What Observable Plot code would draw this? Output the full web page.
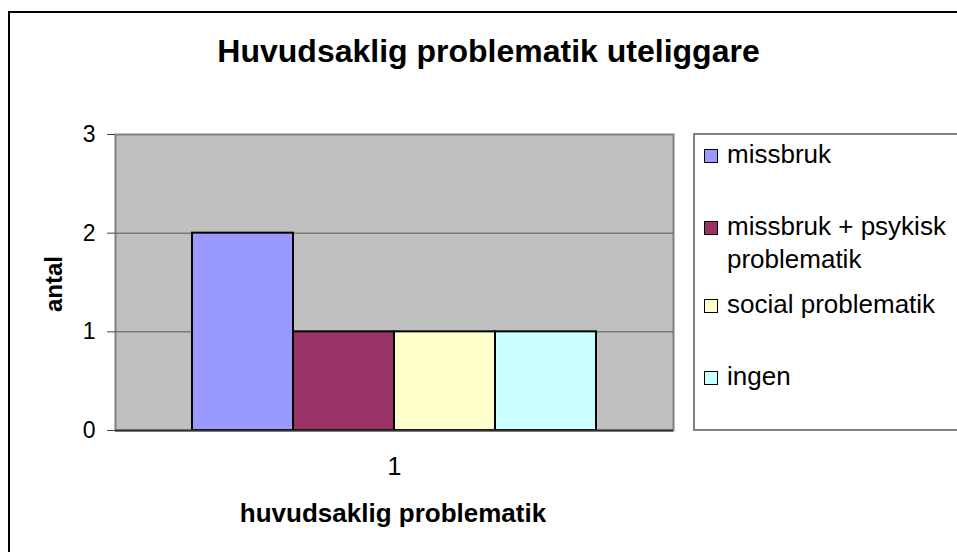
<!DOCTYPE html>
<html>
<head>
<meta charset="utf-8">
<script src="https://cdn.jsdelivr.net/npm/d3@7"></script>
<script src="https://cdn.jsdelivr.net/npm/@observablehq/plot@0.6"></script>
<style>
  html, body { margin: 0; padding: 0; overflow: hidden; background: #fff; width: 957px; height: 552px; }
  body { font-family: "Liberation Sans", Arial, sans-serif; color: #000; position: relative; }
  #frame { position: absolute; left: 8px; top: 11px; width: 1000px; height: 600px; border: 2px solid #000; box-sizing: border-box; }
  #title { position: absolute; left: 0; width: 977px; top: 35px; text-align: center; font-size: 32px; font-weight: bold; line-height: 1; white-space: nowrap; }
  #chart { position: absolute; left: 0; top: 0; }
  #ytitle { position: absolute; left: 53.5px; top: 284px; transform: translate(-50%, -50%) rotate(-90deg); font-size: 24px; font-weight: bold; line-height: 1; white-space: nowrap; }
  #xtitle { position: absolute; left: 0; width: 786px; top: 500px; text-align: center; font-size: 26px; font-weight: bold; line-height: 1; white-space: nowrap; }
  #legend { position: absolute; left: 693px; top: 133px; width: 300px; height: 298px; border: 2px solid #808080; box-sizing: border-box; background: #fff; }
  .entry { position: absolute; left: 0; width: 280px; font-size: 26px; line-height: 33px; }
  .swatch { position: absolute; left: 9px; top: 11px; width: 14px; height: 14px; border: 1.5px solid #000; box-sizing: border-box; }
  .label { position: absolute; left: 32px; top: 0; width: 235px; }
</style>
</head>
<body>
<div id="frame"></div>
<div id="title">Huvudsaklig problematik uteliggare</div>
<div id="chart"></div>
<div id="ytitle">antal</div>
<div id="xtitle">huvudsaklig problematik</div>
<div id="legend"></div>
<script>
// ---- data ----
const categories = ["1"];
const series = ["missbruk", "missbruk + psykisk problematik", "social problematik", "ingen"];
const values = [2, 1, 1, 1];
const colors = ["#9999FF", "#993366", "#FFFFCC", "#CCFFFF"];
const yTicks = [0, 1, 2, 3];
const gridValues = [1, 2];

// ---- layout (legend entry vertical offsets, px) ----
const legendTops = [2.5, 74.5, 152.5, 224.5];

const data = series.map((s, i) => ({ group: categories[0], series: s, value: values[i] }));

const chart = Plot.plot({
  width: 957,
  height: 552,
  marginLeft: 115,
  marginRight: 284,
  marginTop: 134,
  marginBottom: 122,
  style: { fontFamily: "'Liberation Sans', Arial, sans-serif", background: "transparent", color: "#000", overflow: "visible" },
  fx: { domain: categories, padding: 0, label: null },
  x: { domain: series, paddingInner: 0, paddingOuter: 0.75, axis: null },
  y: { domain: [0, 3], axis: null },
  color: { domain: series, range: colors },
  marks: [
    Plot.frame({ fill: "#c0c0c0", stroke: "#808080", strokeWidth: 2 }),
    Plot.gridY(gridValues, { stroke: "#555555", strokeOpacity: 1, strokeWidth: 1 }),
    Plot.barY(data, { fx: "group", x: "series", y: "value", fill: "series", stroke: "#000", strokeWidth: 2 }),
    Plot.ruleY([0], { stroke: "#333333", strokeWidth: 2 }),
    Plot.axisY({ ticks: yTicks, tickFormat: d3.format("d"), tickSize: 8, tickPadding: 12, fontSize: 23, label: null, stroke: "#404040" }),
    Plot.axisFx({ anchor: "bottom", tickSize: 0, tickPadding: 27, fontSize: 25, label: null })
  ]
});
document.getElementById("chart").appendChild(chart);

// ---- legend ----
const legend = document.getElementById("legend");
series.forEach((s, i) => {
  const e = document.createElement("div");
  e.className = "entry";
  e.style.top = legendTops[i] + "px";
  const sw = document.createElement("div");
  sw.className = "swatch";
  sw.style.background = colors[i];
  const lb = document.createElement("div");
  lb.className = "label";
  lb.textContent = s;
  e.appendChild(sw);
  e.appendChild(lb);
  legend.appendChild(e);
});
</script>
</body>
</html>
